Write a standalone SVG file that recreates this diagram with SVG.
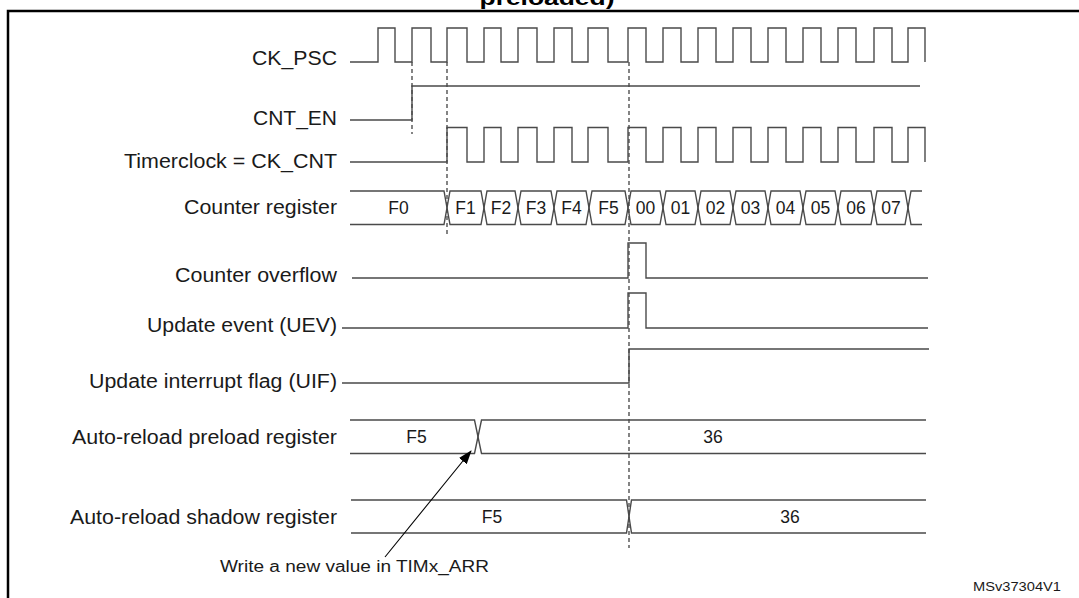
<svg xmlns="http://www.w3.org/2000/svg" width="1079" height="598" viewBox="0 0 1079 598">
<style>
.lbl{font-family:"Liberation Sans",Arial,sans-serif;font-size:19.5px;fill:#1a1a1a;text-anchor:end}
.val{font-family:"Liberation Sans",Arial,sans-serif;font-size:17.5px;fill:#1a1a1a;text-anchor:middle}
.wave{fill:none;stroke:#4a4a4a;stroke-width:1.4}
.guide{fill:none;stroke:#333;stroke-width:1.2;stroke-dasharray:4 3}
</style>
<defs>
<marker id="ah" viewBox="0 0 14 10" refX="13" refY="5" markerWidth="14" markerHeight="10" markerUnits="userSpaceOnUse" orient="auto">
<path d="M0,0 L14,5 L0,10 Z" fill="#000"/>
</marker>
</defs>
<rect width="1079" height="598" fill="#fff"/>
<text x="547" y="4.5" font-family="Liberation Sans,Arial,sans-serif" font-size="20" font-weight="bold" text-anchor="middle" textLength="135" lengthAdjust="spacingAndGlyphs" fill="#000">preloaded)</text>
<rect x="8" y="11" width="1100" height="620" fill="none" stroke="#000" stroke-width="2.5"/>

<g id="guides">
<path class="guide" d="M412,62V134 M447,62V234 M629,62V548"/>
</g>

<g id="ck_psc">
<text class="lbl" x="337" y="65" textLength="85" lengthAdjust="spacingAndGlyphs">CK_PSC</text>
<path class="wave" d="M350,62H378V28H395V62H412V28H431V62H447V28H467V62H484V28H501V62H518V28H537V62H554V28H572V62H588V28H608V62H628V28H646V62H663V28H681V62H698V28H716V62H733V28H751V62H768V28H786V62H803V28H821V62H838V28H856V62H874V28H892V62H908V28H925V62"/>
</g>

<g id="cnt_en">
<text class="lbl" x="337" y="125" textLength="84" lengthAdjust="spacingAndGlyphs">CNT_EN</text>
<path class="wave" d="M350,120H412V86H920"/>
</g>

<g id="ck_cnt">
<text class="lbl" x="337" y="168" textLength="213" lengthAdjust="spacingAndGlyphs">Timerclock = CK_CNT</text>
<path class="wave" d="M350,162H447V127.5H467V162H484V127.5H501V162H518V127.5H537V162H554V127.5H572V162H588V127.5H608V162H628V127.5H646V162H663V127.5H681V162H698V127.5H716V162H733V127.5H751V162H768V127.5H786V162H803V127.5H821V162H838V127.5H856V162H874V127.5H892V162H908V127.5H925V162"/>
</g>

<g id="counter_register">
<text class="lbl" x="337" y="213.5" textLength="153" lengthAdjust="spacingAndGlyphs">Counter register</text>
<path class="wave" d="M350,191H444L450,224.5H481L487,191H515L521,224.5H551L557,191H586L592,224.5H625L631,191H660L666,224.5H695L701,191H730L736,224.5H765L771,191H800L806,224.5H835L841,191H871L877,224.5H905L911,191H922"/>
<path class="wave" d="M350,224.5H444L450,191H481L487,224.5H515L521,191H551L557,224.5H586L592,191H625L631,224.5H660L666,191H695L701,224.5H730L736,191H765L771,224.5H800L806,191H835L841,224.5H871L877,191H905L911,224.5H922"/>
<text class="val" x="398.5" y="214">F0</text>
<text class="val" x="465.5" y="214">F1</text>
<text class="val" x="501" y="214">F2</text>
<text class="val" x="536" y="214">F3</text>
<text class="val" x="571.5" y="214">F4</text>
<text class="val" x="608.5" y="214">F5</text>
<text class="val" x="645.5" y="214">00</text>
<text class="val" x="680.5" y="214">01</text>
<text class="val" x="715.5" y="214">02</text>
<text class="val" x="750.5" y="214">03</text>
<text class="val" x="785.5" y="214">04</text>
<text class="val" x="820.5" y="214">05</text>
<text class="val" x="856" y="214">06</text>
<text class="val" x="891" y="214">07</text>
</g>

<g id="counter_overflow">
<text class="lbl" x="337" y="282" textLength="162" lengthAdjust="spacingAndGlyphs">Counter overflow</text>
<path class="wave" d="M352,278H628V243H646V278H928"/>
</g>

<g id="uev">
<text class="lbl" x="337" y="331.5" textLength="190" lengthAdjust="spacingAndGlyphs">Update event (UEV)</text>
<path class="wave" d="M342,328H628V293H646V328H928"/>
</g>

<g id="uif">
<text class="lbl" x="337" y="387.5" textLength="248" lengthAdjust="spacingAndGlyphs">Update interrupt flag (UIF)</text>
<path class="wave" d="M342,383H629V349H929"/>
</g>

<g id="arr_preload">
<text class="lbl" x="337" y="443.5" textLength="265" lengthAdjust="spacingAndGlyphs">Auto-reload preload register</text>
<path class="wave" d="M350,420H474.5L481.5,453.5H926"/>
<path class="wave" d="M350,453.5H474.5L481.5,420H926"/>
<text class="val" x="416.5" y="443">F5</text>
<text class="val" x="713" y="443">36</text>
</g>

<g id="arr_shadow">
<text class="lbl" x="337" y="523.5" textLength="267" lengthAdjust="spacingAndGlyphs">Auto-reload shadow register</text>
<path class="wave" d="M351,500H626.5L631.5,533H926"/>
<path class="wave" d="M351,533H626.5L631.5,500H926"/>
<text class="val" x="492" y="523">F5</text>
<text class="val" x="790" y="523">36</text>
</g>

<g id="note">
<text x="220" y="572" font-family="Liberation Sans,Arial,sans-serif" font-size="16" textLength="269" lengthAdjust="spacingAndGlyphs" fill="#1a1a1a">Write a new value in TIMx_ARR</text>
</g>

<g id="connectors">
<path d="M385,557L471,451" fill="none" stroke="#000" stroke-width="1.1" marker-end="url(#ah)"/>
</g>

<text x="1061" y="591" font-family="Liberation Sans,Arial,sans-serif" font-size="13" text-anchor="end" textLength="88" lengthAdjust="spacingAndGlyphs" fill="#1a1a1a">MSv37304V1</text>
</svg>
